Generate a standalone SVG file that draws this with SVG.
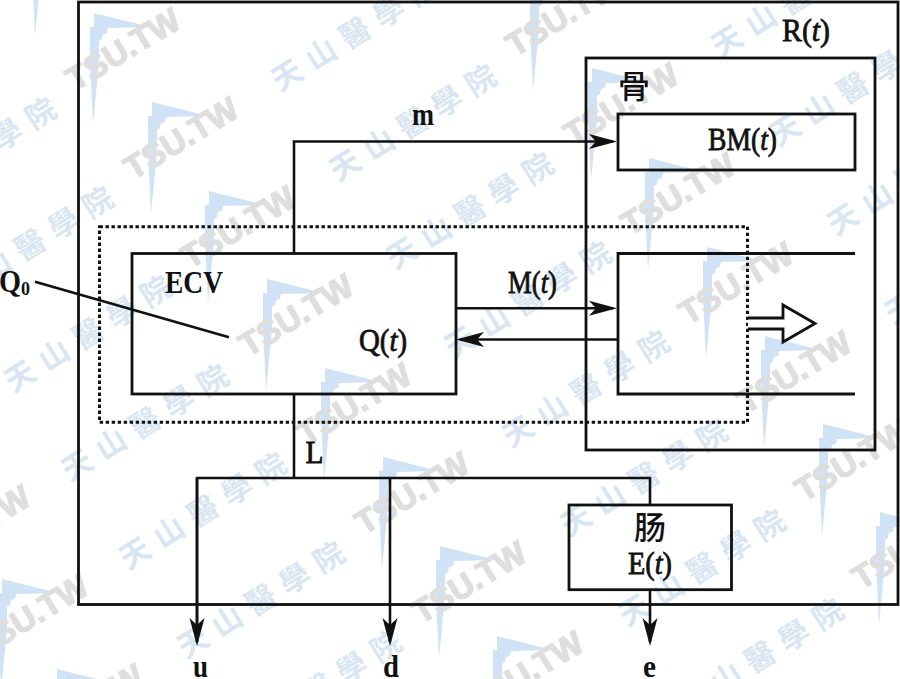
<svg xmlns="http://www.w3.org/2000/svg" width="900" height="679" viewBox="0 0 900 679">
<style>
.ln{fill:none;stroke:#111;stroke-width:2.6}
.box{fill:none;stroke:#111;stroke-width:2.8}
.t{font-family:"Liberation Serif",serif;font-size:32px;font-weight:400;fill:#111;stroke:#111;stroke-width:.8}
.b{font-weight:700;stroke:none}
.i{font-style:italic}
.c{font-family:"Noto Sans CJK SC",sans-serif;font-size:32px;font-weight:500;fill:#111;text-anchor:middle}
.wt{font-family:"Liberation Sans",sans-serif;font-size:33px;font-weight:700;fill:#dedede;stroke:#dedede;stroke-width:1.2;text-anchor:middle}
.wc{font-family:"Noto Sans CJK TC",sans-serif;font-size:30px;font-weight:700;fill:#d8e6f3;letter-spacing:10px}
</style>
<defs>
<marker id="a" markerUnits="userSpaceOnUse" viewBox="-30 -8 31 16" markerWidth="31" markerHeight="16" refX="-4" refY="0" orient="auto"><path d="M-28,-7.5L0,0L-28,7.5L-21,0Z" fill="#111"/></marker>
<g id="tsu"><polygon points="0,0 56,14 14,15 13,20 9,21 8,26 5,28 5,50 -1,112 -4,50 -4,14 0,14" fill="#d0e3f6"/><text class="wt" transform="translate(35,46) rotate(-31)">TSU.TW</text></g>
<g id="tsc"><text class="wc" transform="rotate(-32)" x="-15" y="11">天山醫學院</text></g>
</defs>
<rect width="900" height="679" fill="#fff"/>
<g id="watermark">
<use href="#tsu" x="36" y="-76"/><use href="#tsu" x="94" y="13"/><use href="#tsu" x="152" y="102"/><use href="#tsu" x="209" y="191"/><use href="#tsu" x="267" y="279"/><use href="#tsu" x="325" y="368"/><use href="#tsu" x="383" y="457"/><use href="#tsu" x="440" y="546"/><use href="#tsu" x="497" y="636"/>
<use href="#tsu" x="534" y="-21"/><use href="#tsu" x="592" y="68"/><use href="#tsu" x="649" y="158"/><use href="#tsu" x="707" y="247"/><use href="#tsu" x="765" y="336"/><use href="#tsu" x="823" y="424"/><use href="#tsu" x="880" y="512"/>
<use href="#tsu" x="-56" y="490"/><use href="#tsu" x="2" y="579"/><use href="#tsu" x="57" y="669"/>
<use href="#tsc" x="287" y="75"/><use href="#tsc" x="345" y="165"/><use href="#tsc" x="402" y="253"/><use href="#tsc" x="460" y="342"/><use href="#tsc" x="518" y="431"/><use href="#tsc" x="576" y="520"/><use href="#tsc" x="634" y="610"/><use href="#tsc" x="692" y="699"/>
<use href="#tsc" x="-95" y="198"/><use href="#tsc" x="-38" y="287"/><use href="#tsc" x="20" y="376"/><use href="#tsc" x="77" y="465"/><use href="#tsc" x="135" y="553"/><use href="#tsc" x="193" y="642"/><use href="#tsc" x="250" y="731"/>
<use href="#tsc" x="727" y="41"/><use href="#tsc" x="785" y="130"/><use href="#tsc" x="843" y="219"/><use href="#tsc" x="900" y="308"/>
</g>
<g id="outer"><rect class="box" x="78.5" y="2" width="819.5" height="602.5"/><text class="t" x="782" y="41" textLength="48" lengthAdjust="spacingAndGlyphs">R(<tspan class="i">t</tspan>)</text></g>
<g id="bone"><rect class="box" x="586" y="58" width="289" height="392"/><text class="c" x="634" y="98">骨</text></g>
<g id="bm"><rect class="box" x="618" y="114" width="237" height="56"/><text class="t" x="708" y="150" textLength="69" lengthAdjust="spacingAndGlyphs">BM(<tspan class="i">t</tspan>)</text></g>
<g id="dotted"><rect x="99.5" y="226.7" width="648" height="195.6" fill="none" stroke="#111" stroke-width="3" stroke-dasharray="3.4 2.6"/></g>
<g id="ecv"><rect class="box" x="132" y="253.5" width="324" height="140.5"/><text class="t b" x="165" y="293" textLength="58" lengthAdjust="spacingAndGlyphs">ECV</text><text class="t" x="359" y="351" textLength="48" lengthAdjust="spacingAndGlyphs">Q(<tspan class="i">t</tspan>)</text></g>
<g id="marrow"><path class="box" d="M855,253.5H618V394H855"/><path d="M748,318H783V305L815,323.5L783,342V329H748" fill="#fff" stroke="#111" stroke-width="2.8"/></g>
<g id="gut"><rect class="box" x="569" y="505" width="162.5" height="84.7"/><text class="c" x="650" y="539">肠</text><text class="t" x="628" y="574" textLength="44" lengthAdjust="spacingAndGlyphs">E(<tspan class="i">t</tspan>)</text></g>
<g id="connectors">
<path class="ln" d="M35,281.7L229,337.3"/>
<path class="ln" d="M294,253V141.5H613" marker-end="url(#a)"/>
<path class="ln" d="M456,308.3H613" marker-end="url(#a)"/>
<path class="ln" d="M618,339.5H460" marker-end="url(#a)"/>
<path class="ln" d="M294,394V478"/>
<path class="ln" d="M197,642V478H650V505"/>
<path class="ln" d="M390,478V642" marker-end="url(#a)"/>
<path class="ln" d="M197,478V642" marker-end="url(#a)"/>
<path class="ln" d="M650,590V642" marker-end="url(#a)"/>
</g>
<g id="labels">
<text class="t b" x="-1" y="292" textLength="22" lengthAdjust="spacingAndGlyphs">Q</text><text class="t b" x="21" y="295" style="font-size:18px">0</text>
<text class="t b" x="412" y="124.5" textLength="22" lengthAdjust="spacingAndGlyphs">m</text>
<text class="t" x="508" y="293" textLength="49" lengthAdjust="spacingAndGlyphs">M(<tspan class="i">t</tspan>)</text>
<text class="t" x="305.5" y="463" textLength="18" lengthAdjust="spacingAndGlyphs">L</text>
<text class="t b" x="193" y="677" textLength="15" lengthAdjust="spacingAndGlyphs">u</text>
<text class="t b" x="383" y="677" textLength="16" lengthAdjust="spacingAndGlyphs">d</text>
<text class="t b" x="643" y="677" textLength="13" lengthAdjust="spacingAndGlyphs">e</text>
</g>
</svg>
